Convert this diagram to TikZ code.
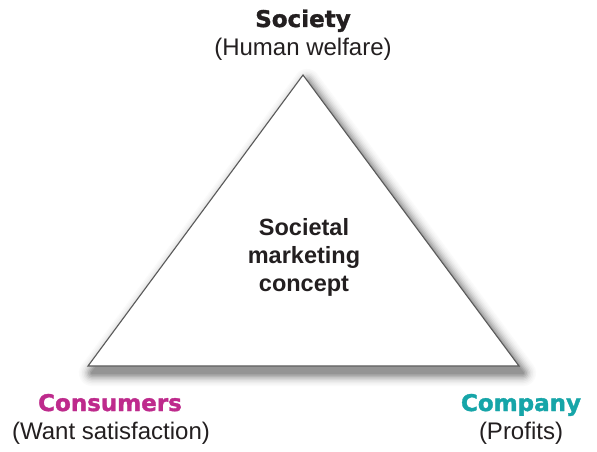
\documentclass[tikz,border=0pt]{standalone}
\usepackage{fontspec}
\setmainfont{Liberation Sans}
\newfontfamily\headfont{DejaVu Sans}[BoldFeatures={FakeBold=1.5}]
\definecolor{consumercol}{HTML}{BE2A8C}
\definecolor{companycol}{HTML}{16A5A8}
\definecolor{textcol}{HTML}{231F20}
\tikzset{
  head/.style={anchor=base, inner sep=0pt, font=\headfont\bfseries\fontsize{23}{28}\selectfont},
  sub/.style={anchor=base, inner sep=0pt, text=textcol, font=\fontsize{24}{28}\selectfont},
  tri/.style={draw=black!65, line width=1.1pt, fill=white, line join=miter},
  shadowlayer/.style={line join=round, transform canvas={shift={(4pt,-7pt)}}},
  centre/.style={align=center, inner sep=0pt, text=textcol, font=\bfseries\fontsize{23.5}{28}\selectfont}
}
\begin{document}
\begin{tikzpicture}[x=1pt,y=-1pt]
\useasboundingbox (0,0) rectangle (597,452);
\fill[white] (0,0) rectangle (597,452);
\coordinate (apex) at (303,75);
\coordinate (bl) at (88,366);
\coordinate (br) at (519,366);
\foreach \w/\c in {26/2,23/4,20/7,17/11,14/16,11/22,8/29,5/36,2/42}
  \path[shadowlayer, fill=black!\c, draw=black!\c, line width=\w pt] (apex) -- (br) -- (bl) -- cycle;
\path[tri] (apex) -- (br) -- (bl) -- cycle;
\node[centre] (concept) at (304,257) {Societal\\marketing\\concept};
\node[head, text=textcol] (society) at (303,27) {Society};
\node[sub] (welfare) at (303,56) {(Human welfare)};
\node[head, text=consumercol] (consumers) at (110,411) {Consumers};
\node[sub] (want) at (111,439) {(Want satisfaction)};
\node[head, text=companycol] (company) at (521,411) {Company};
\node[sub] (profits) at (521,439) {(Profits)};
\end{tikzpicture}
\end{document}
